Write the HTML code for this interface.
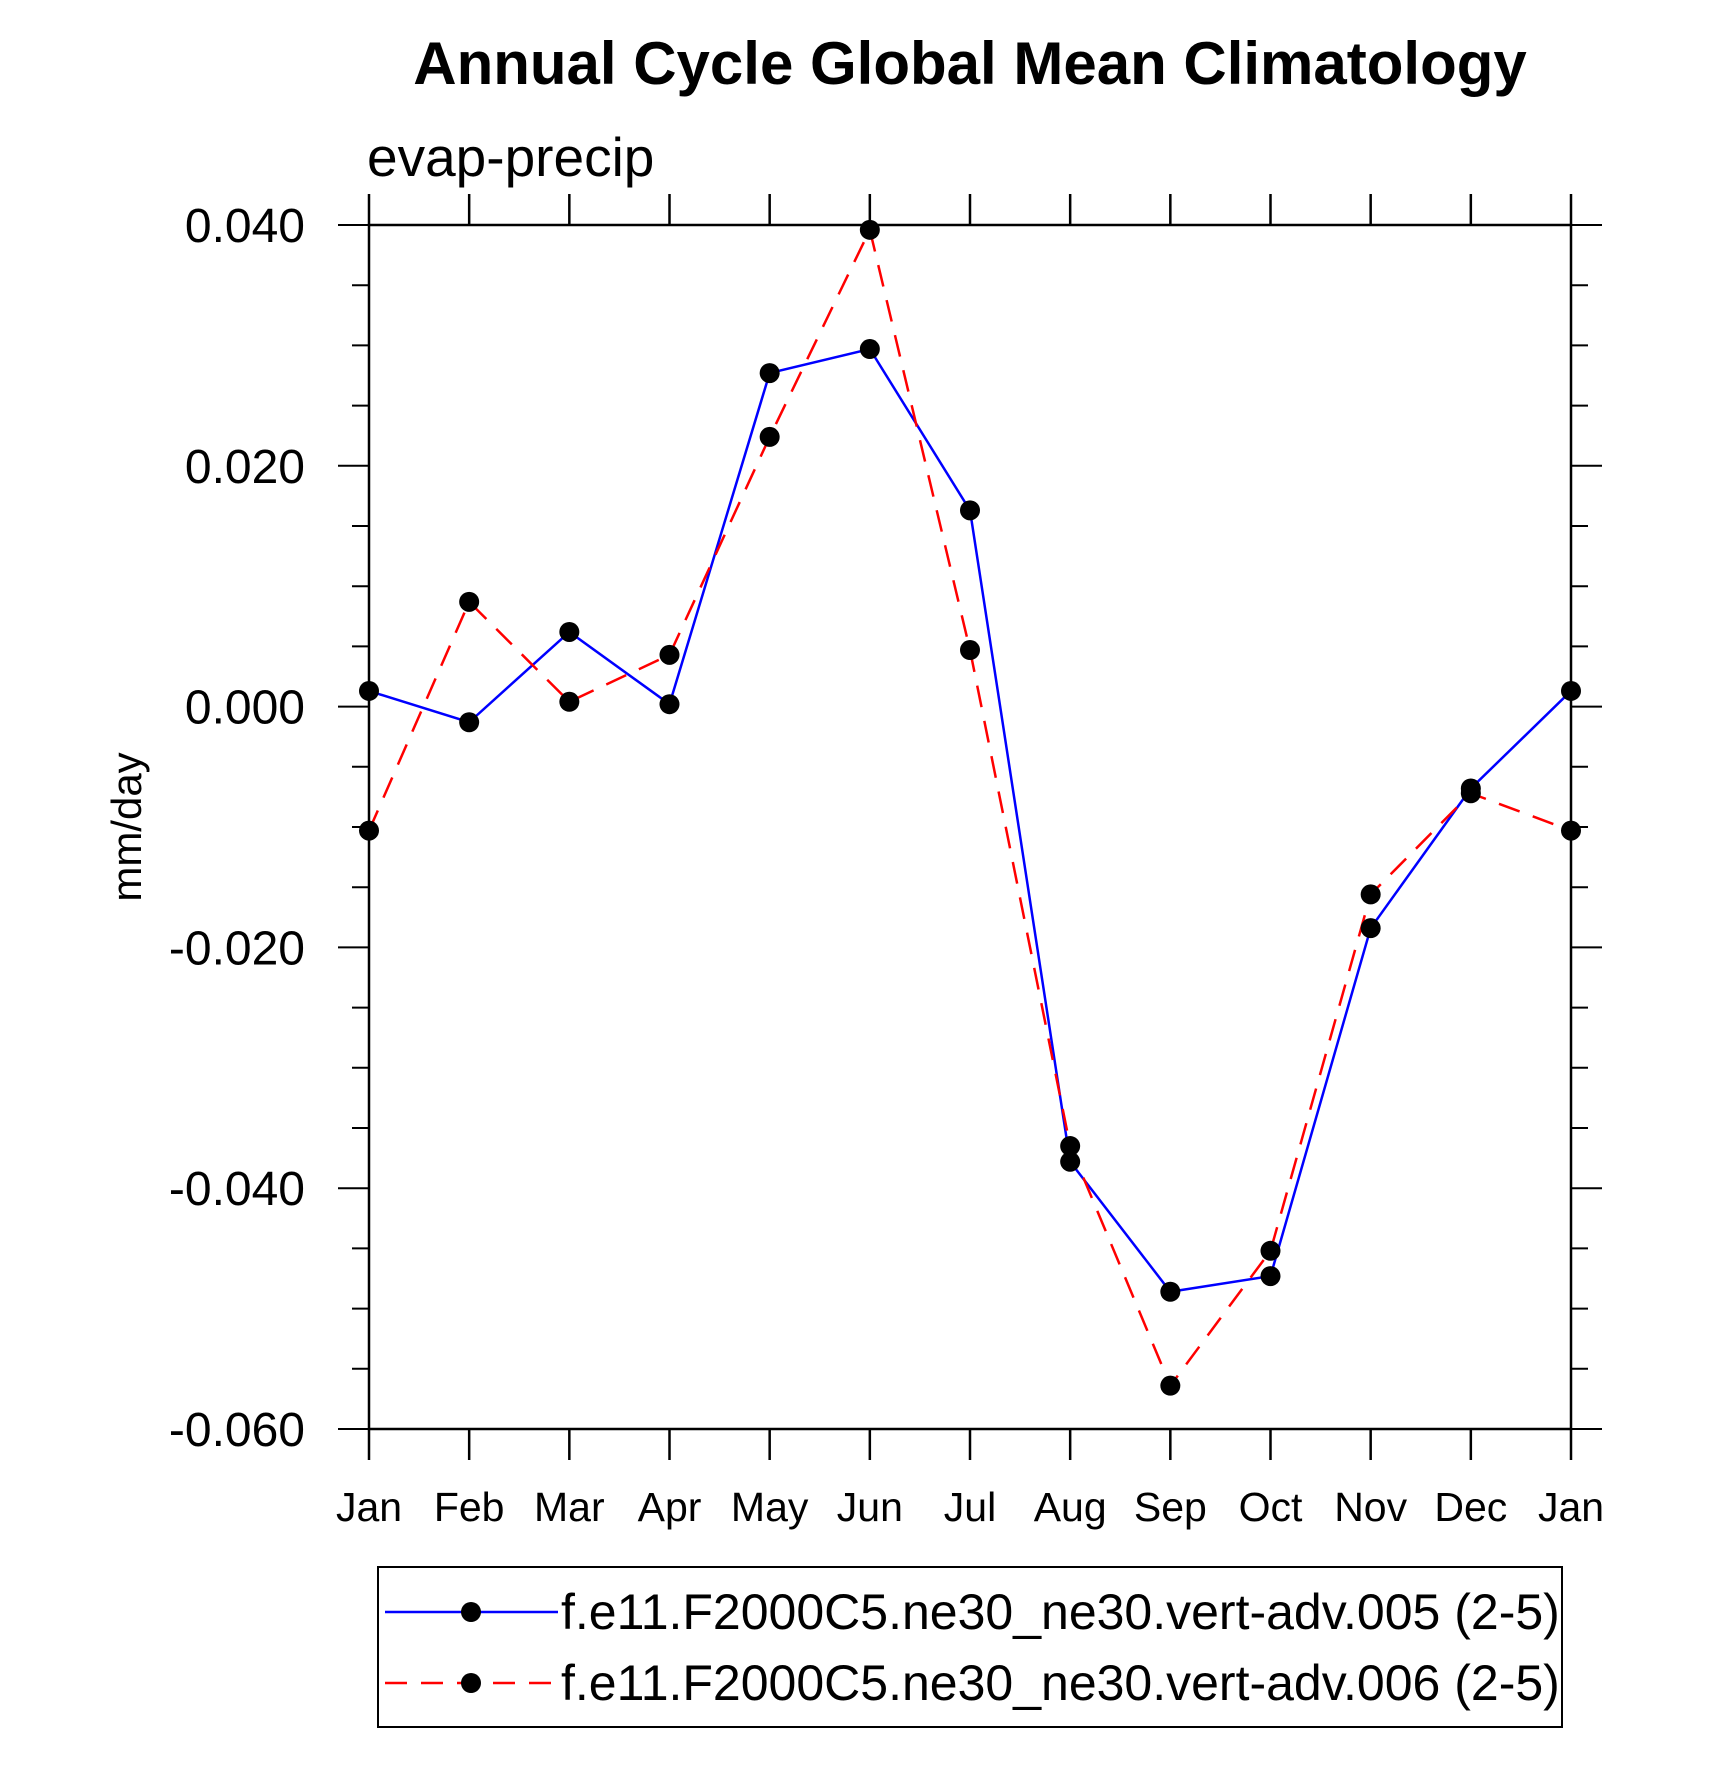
<!DOCTYPE html>
<html><head><meta charset="utf-8"><style>
body{margin:0;background:#fff}
svg{display:block;font-family:"Liberation Sans",sans-serif}
</style></head><body>
<svg id="chart" width="1710" height="1769" viewBox="0 0 1710 1769">
<text x="970" y="84" text-anchor="middle" font-size="60" font-weight="bold">Annual Cycle Global Mean Climatology</text>
<text x="367" y="176" font-size="55">evap-precip</text>
<text transform="translate(141,827) rotate(-90)" text-anchor="middle" font-size="42">mm/day</text>
<g id="axes"></g>
<g id="series"></g>
<g>
<rect x="378" y="1567" width="1184" height="160" fill="none" stroke="#000" stroke-width="2"/>
<g>
<line x1="385" y1="1612" x2="558" y2="1612" stroke="#00f" stroke-width="2.5"/>
<circle cx="471" cy="1612" r="10" fill="#000"/>
<text x="561" y="1629" font-size="50">f.e11.F2000C5.ne30_ne30.vert-adv.005 (2-5)</text>
</g>
<g>
<line x1="385" y1="1683" x2="558" y2="1683" stroke="#f00" stroke-width="2.5" stroke-dasharray="22,14"/>
<circle cx="471" cy="1683" r="10" fill="#000"/>
<text x="561" y="1700" font-size="50">f.e11.F2000C5.ne30_ne30.vert-adv.006 (2-5)</text>
</g>
</g>
</svg>
<script>
const months=["Jan","Feb","Mar","Apr","May","Jun","Jul","Aug","Sep","Oct","Nov","Dec","Jan"];
const series005=[0.0013,-0.0013,0.0062,0.0002,0.0277,0.0297,0.0163,-0.0378,-0.0486,-0.0473,-0.0184,-0.0068,0.0013];
const series006=[-0.0103,0.0087,0.0004,0.0043,0.0224,0.0396,0.0047,-0.0365,-0.0564,-0.0452,-0.0156,-0.0072,-0.0103];
const yTicks=[0.04,0.02,0,-0.02,-0.04,-0.06];
const yTickLabels=["0.040","0.020","0.000","-0.020","-0.040","-0.060"];
const X0=369,X1=1571,Y0=225,Y1=1429,YMAX=0.04,YMIN=-0.06;
const NS="http://www.w3.org/2000/svg";
function xs(i){return X0+(X1-X0)*i/(months.length-1);}
function ys(v){return Y0+(YMAX-v)/(YMAX-YMIN)*(Y1-Y0);}
function mk(tag,attrs,parent){const e=document.createElementNS(NS,tag);for(const k in attrs)e.setAttribute(k,attrs[k]);parent.appendChild(e);return e;}
const axes=document.getElementById('axes');
const frame=mk('rect',{x:X0,y:Y0,width:X1-X0,height:Y1-Y0,fill:'none',stroke:'#000','stroke-width':2.5},axes);


for(let i=0;i<months.length;i++){
  const x=xs(i);
  const t1=mk('line',{x1:x,x2:x,y1:Y0,y2:Y0-31,stroke:'#000','stroke-width':2.5},axes);
  
  
  const t2=mk('line',{x1:x,x2:x,y1:Y1,y2:Y1+31,stroke:'#000','stroke-width':2.5},axes);
  
  
  const lb=mk('text',{x:x,y:1521,'text-anchor':'middle','font-size':41},axes);
  lb.textContent=months[i];
  
  
}
for(let v=YMIN;v<=YMAX+1e-9;v+=0.005){
  const y=ys(v);
  const major=Math.abs(Math.round(v*1000)%20)===0;
  const L=major?31:17;
  const a=mk('line',{x1:X0,x2:X0-L,y1:y,y2:y,stroke:'#000','stroke-width':2},axes);
  
  
  const b=mk('line',{x1:X1,x2:X1+L,y1:y,y2:y,stroke:'#000','stroke-width':2},axes);
  
  
}
yTicks.forEach((v,i)=>{
  const t=mk('text',{x:305,y:ys(v)+17,'text-anchor':'end','font-size':48},axes);
  t.textContent=yTickLabels[i];
  
  
});
const sg=document.getElementById('series');
function draw(vals,color,dash,name){
  const pts=vals.map((v,i)=>xs(i)+','+ys(v)).join(' ');
  const pl=mk('polyline',{points:pts,fill:'none',stroke:color,'stroke-width':2.5,'stroke-dasharray':dash},sg);
  
  
}
function dots(vals,name){
  vals.forEach((v,i)=>{
    const c=mk('circle',{cx:xs(i),cy:ys(v),r:10,fill:'#000'},sg);
    
    
  });
}
draw(series005,'#00f','none','series-005');
draw(series006,'#f00','22,14','series-006');
dots(series005,'series-005');
dots(series006,'series-006');
</script>
</body></html>
